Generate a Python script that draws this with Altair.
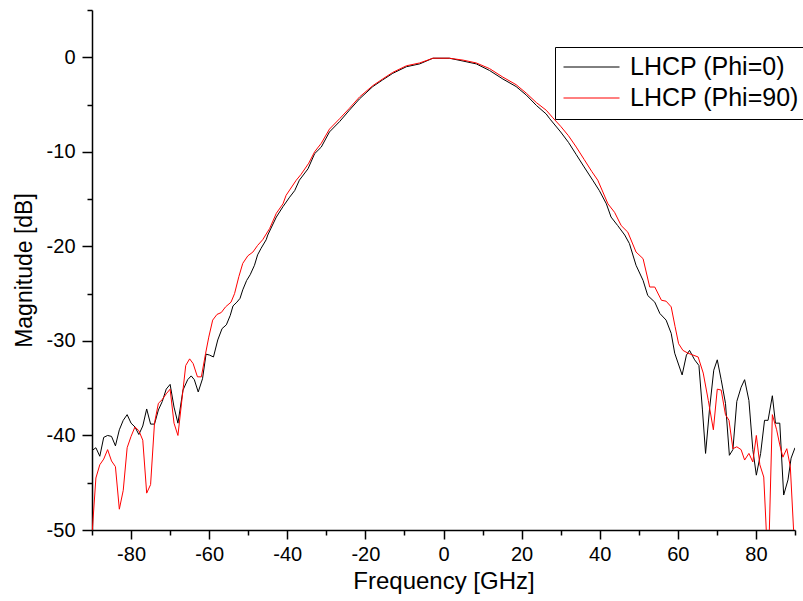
import altair as alt
import pandas as pd

# ---- data ----
black_f = [-90, -89, -88, -87, -86, -85, -84, -83, -82, -81, -80, -79, -78, -77, -76, -75, -74, -73, -72, -71,
           -70, -69, -68, -66.7, -65.5, -64.6, -63.8, -62.8, -61.7, -60.8, -59.9, -58.9, -57.8, -56.7, -55.6,
           -54.6, -53.9, -52.9, -52.1, -51.4, -50.4, -49.5, -48.4, -47.6, -46.7, -45.4, -45.0, -42.8, -41.1,
           -39.4, -38.1, -36.9, -34.7, -33.0, -31.3, -29.2, -26.6, -24.1, -21.5, -18.1, -15.6, -13.0, -9.5,
           -6.1, -2.7, 1.5, 5.0, 8.4, 11.8, 15.2, 18.6, 21.2, 23.8, 26.3, 27.2, 30, 32, 34, 36, 38.2, 39.9,
           41.7, 42.9, 44.6, 46.4, 47.6, 49.3, 51.1, 52.3, 54.1, 55.4, 57.0, 58.3, 59.2, 61.1, 62.2, 63.0,
           64.3, 65.4, 66.3, 67.1, 68.1, 69.2, 70.1, 71.1, 72.2, 73.2, 74.1, 75.1, 76.2, 77.1, 78.2, 79.2,
           80.1, 81.2, 82.2, 83.1, 84.2, 85.0, 86.1, 87.1, 88.2, 89.0, 90.0]
black_db = [-41.6, -41.3, -42.2, -40.2, -40.0, -40.1, -41.1, -39.4, -38.4, -37.8, -38.7, -39.1, -39.9, -39.0,
            -37.2, -38.8, -38.8, -37.3, -36.4, -35.1, -34.6, -37.0, -38.7, -35.2, -34.1, -33.7, -34.1, -35.4,
            -34.0, -31.4, -31.5, -31.7, -29.9, -28.7, -28.3, -27.3, -26.3, -25.9, -25.5, -24.6, -23.6, -23.0,
            -22.0, -20.9, -20.2, -19.3, -18.8, -16.9, -15.8, -14.8, -14.1, -13.0, -11.8, -10.2, -9.5, -7.9,
            -6.8, -5.6, -4.4, -3.1, -2.4, -1.7, -1.0, -0.7, -0.1, -0.1, -0.4, -0.7, -1.4, -2.3, -3.1, -4.0,
            -5.1, -6.0, -6.5, -7.9, -9.0, -10.3, -11.6, -13.0, -14.1, -15.5, -16.9, -17.8, -18.8, -19.7,
            -22.0, -23.6, -25.2, -25.9, -27.1, -27.8, -29.2, -31.3, -33.6, -31.5, -31.0, -32.0, -32.6, -37.3,
            -41.9, -37.3, -33.1, -32.0, -34.1, -36.6, -42.1, -41.5, -36.4, -34.9, -34.1, -36.3, -41.5, -44.2,
            -41.9, -38.4, -38.4, -35.8, -38.7, -38.7, -46.3, -44.7, -42.4, -41.3]

red_f = [-90, -89, -88, -87, -86, -85, -84, -83, -82, -81, -80, -79, -78, -77, -76, -75, -74, -73, -72, -71,
         -70, -69, -68, -66.7, -66.0, -65.0, -64.1, -63.0, -62.0, -60.9, -60.1, -59.1, -58.0, -56.9, -55.8,
         -54.4, -53.5, -52.4, -51.4, -50.1, -48.8, -47.6, -46.3, -44.5, -42.8, -41.1, -40.3, -37.7, -36.5,
         -34.5, -33.0, -31.3, -29.2, -26.6, -24.1, -21.5, -18.1, -15.6, -13.0, -9.5, -6.1, -2.7, 1.5, 5.0,
         8.4, 11.8, 15.2, 18.6, 21.2, 23.8, 26.3, 28, 30, 32, 34, 36, 38, 39.5, 42.1, 43.8, 45.5, 47.2,
         49.3, 51.1, 52.8, 54.1, 55.8, 57.0, 58.3, 59.3, 60.2, 61.3, 62.6, 63.9, 65.2, 66.5, 67.8, 69.1,
         70.1, 71.1, 72.2, 73.1, 74.1, 75.1, 76.2, 77.1, 78.2, 79.2, 80.1, 81.0, 82.0, 82.7, 83.4, 84.2,
         85.3, 86.1, 86.9, 87.9, 88.8, 89.7]
red_db = [-50.5, -44.5, -43.1, -42.5, -41.5, -42.7, -43.3, -47.8, -45.8, -41.3, -40.1, -39.1, -39.5, -40.5,
          -46.1, -45.2, -38.7, -36.6, -36.2, -35.6, -35.1, -38.7, -40.0, -35.2, -32.6, -31.9, -32.4, -33.8,
          -33.8, -31.3, -29.6, -27.8, -27.2, -27.0, -26.4, -25.9, -25.0, -23.2, -21.8, -21.0, -20.6, -19.9,
          -19.3, -18.1, -16.5, -15.5, -14.6, -13.0, -12.4, -11.2, -10.0, -9.1, -7.6, -6.5, -5.4, -4.2, -3.0,
          -2.3, -1.6, -0.9, -0.6, -0.1, -0.1, -0.3, -0.6, -1.2, -2.1, -2.9, -3.8, -4.8, -5.6, -6.4, -7.3,
          -8.3, -9.5, -10.8, -12.1, -13.0, -15.5, -16.4, -17.8, -18.5, -20.6, -21.3, -24.3, -24.3, -25.7,
          -25.8, -26.4, -28.5, -30.3, -31.0, -31.3, -31.5, -31.7, -33.4, -36.3, -39.4, -35.1, -35.2, -37.8,
          -38.4, -41.4, -41.2, -41.5, -42.6, -41.9, -42.8, -40.0, -43.1, -44.4, -50.5, -50.5, -37.8, -39.4,
          -41.0, -42.3, -41.4, -43.3, -50.5]

series_names = ["LHCP (Phi=0)", "LHCP (Phi=90)"]
series_colors = ["#000000", "#ff0000"]

x_major = [-80, -60, -40, -20, 0, 20, 40, 60, 80]
x_minor = [-90, -70, -50, -30, -10, 10, 30, 50, 70, 90]
y_major = [0, -10, -20, -30, -40, -50]
y_minor = [5, -5, -15, -25, -35, -45]

df = pd.concat([
    pd.DataFrame({"f": black_f, "db": black_db, "series": series_names[0], "order": 0}),
    pd.DataFrame({"f": red_f, "db": red_db, "series": series_names[1], "order": 1}),
])

FONT = "Liberation Sans"
xs = alt.Scale(domain=[-90, 90], nice=False, zero=False)
ys = alt.Scale(domain=[-50, 5], nice=False, zero=False)

major_x = alt.Axis(values=x_major, orient="bottom", tickSize=9, tickWidth=1.5, tickColor="#000",
                   domainColor="#000", domainWidth=1.5, labelFontSize=20, labelFont=FONT,
                   labelColor="#000", labelPadding=5, labelExpr="'' + datum.value",
                   title="Frequency [GHz]", titleFont=FONT,
                   titleFontSize=24, titleFontWeight="normal", titleColor="#000", titlePadding=5,
                   grid=False, labelFlush=False)
major_y = alt.Axis(values=y_major, orient="left", tickSize=10, tickWidth=1.5, tickColor="#000",
                   domainColor="#000", domainWidth=1.5, labelFontSize=20, labelFont=FONT,
                   labelColor="#000", labelPadding=7, labelExpr="'' + datum.value",
                   title="Magnitude [dB]", titleFont=FONT,
                   titleFontSize=23, titleFontWeight="normal", titleColor="#000", titlePadding=10,
                   grid=False, labelFlush=False)
minor_x = alt.Axis(values=x_minor, orient="bottom", tickSize=5, tickWidth=1.5, tickColor="#000",
                   domain=False, labels=False, title=None, grid=False)
minor_y = alt.Axis(values=y_minor, orient="left", tickSize=5, tickWidth=1.5, tickColor="#000",
                   domain=False, labels=False, title=None, grid=False)

minor = alt.Chart(df).mark_line(opacity=0).encode(
    x=alt.X("f:Q", scale=xs, axis=minor_x),
    y=alt.Y("db:Q", scale=ys, axis=minor_y),
    detail="series:N",
)

lines = alt.Chart(df).mark_line(clip=True, strokeWidth=1).encode(
    x=alt.X("f:Q", scale=xs, axis=major_x),
    y=alt.Y("db:Q", scale=ys, axis=major_y),
    color=alt.Color("series:N",
                    scale=alt.Scale(domain=series_names, range=series_colors),
                    legend=alt.Legend(title=None, orient="none", legendX=463, legendY=37,
                                      symbolType="stroke", symbolSize=3136, symbolStrokeWidth=1,
                                      clipHeight=24,
                                      labelFontSize=25, labelFont=FONT, labelColor="#000",
                                      labelOffset=10, rowPadding=6, padding=8,
                                      strokeColor="#000", fillColor="#fff", labelLimit=400)),
    order="order:Q",
)

chart = alt.layer(minor, lines).resolve_axis(x="independent", y="independent").properties(
    width=703, height=520,
    autosize=alt.AutoSizeParams(type="none"),
    padding={"left": 92, "top": 10, "right": 8, "bottom": 71},
    background="#ffffff",
).configure_view(stroke=None)

chart.save("out.html", embed_options={"renderer": "svg", "actions": False})
